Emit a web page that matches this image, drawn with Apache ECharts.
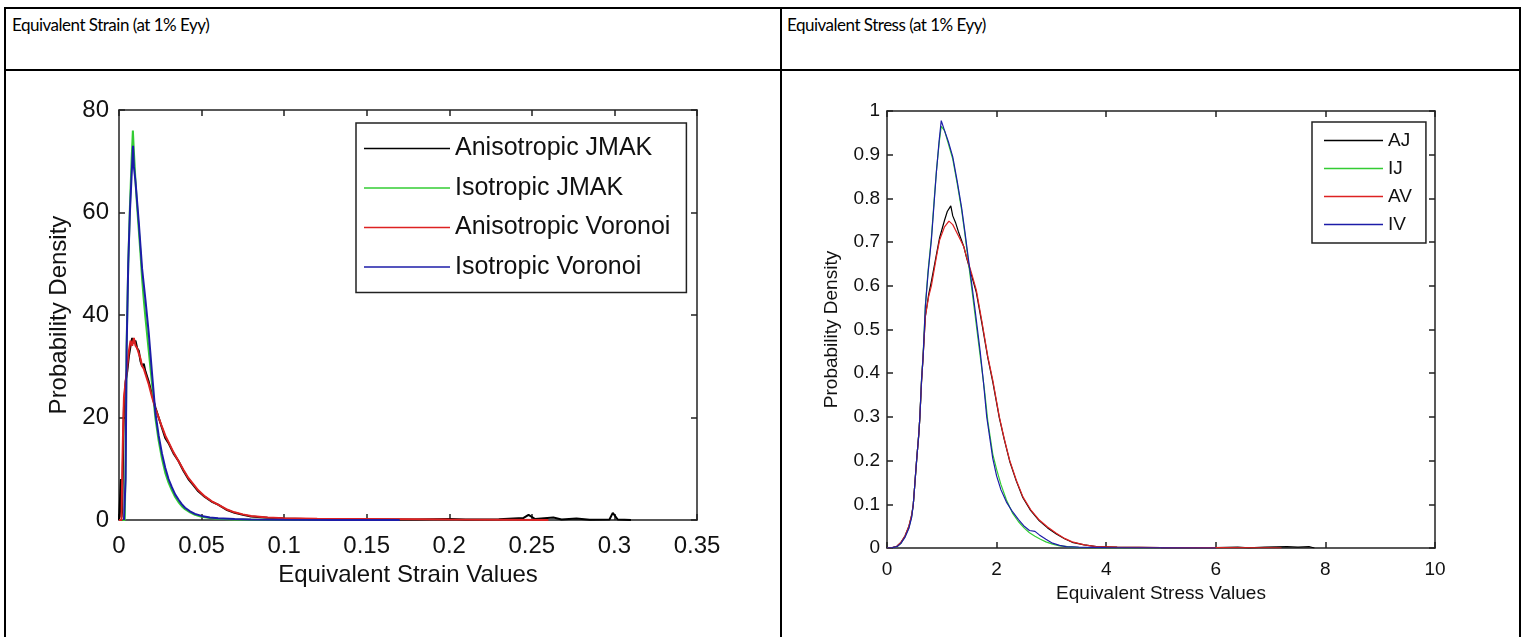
<!DOCTYPE html>
<html>
<head>
<meta charset="utf-8">
<script src="https://cdn.jsdelivr.net/npm/echarts@6/dist/echarts.min.js"></script>
<style>
  html, body { margin: 0; padding: 0; background: #fff; }
  #page { position: relative; width: 1521px; height: 637px; overflow: hidden; }
  .rule { position: absolute; background: #000; }
  .head { position: absolute; font-family: Lato, 'Open Sans', sans-serif; font-size: 17px; letter-spacing: -0.5px; line-height: 20px; color: #000; white-space: nowrap; }
  #main { position: absolute; left: 0; top: 0; width: 1521px; height: 637px; }
</style>
</head>
<body>
<div id="page">
  <div class="rule" style="left:4px; top:7px; width:1517px; height:2px;"></div>
  <div class="rule" style="left:4px; top:69px; width:1517px; height:2px;"></div>
  <div class="rule" style="left:4px; top:7px; width:2px; height:640px;"></div>
  <div class="rule" style="left:780px; top:7px; width:2px; height:640px;"></div>
  <div class="rule" style="left:1519px; top:7px; width:2px; height:640px;"></div>
  <div class="head" style="left:12px; top:15px;">Equivalent Strain (at 1% Eyy)</div>
  <div class="head" style="left:787px; top:15px;">Equivalent Stress (at 1% Eyy)</div>
  <div id="main"></div>
</div>
<script>
// left panel: equivalent strain, [strain, probability density]
const strainNames = ['Anisotropic JMAK', 'Isotropic JMAK', 'Anisotropic Voronoi', 'Isotropic Voronoi'];
const strainTicksX = [0, 0.05, 0.1, 0.15, 0.2, 0.25, 0.3, 0.35];

const strainAJ = [
  [0, 0], [0.001, 0], [0.0012, 8], [0.0015, 0.5], [0.002, 2], [0.0025, 14], [0.003, 22],
  [0.004, 27], [0.005, 29], [0.006, 32], [0.007, 34], [0.008, 35.5], [0.009, 34.5],
  [0.010, 35], [0.011, 33.5], [0.012, 33], [0.013, 31], [0.014, 30], [0.015, 30.5],
  [0.016, 29], [0.018, 27], [0.020, 24.5], [0.022, 22], [0.024, 20], [0.026, 18],
  [0.028, 16], [0.030, 15], [0.033, 13], [0.036, 11.5], [0.039, 9.6], [0.042, 8],
  [0.045, 6.8], [0.048, 5.6], [0.052, 4.5], [0.056, 3.6], [0.060, 3], [0.065, 2],
  [0.070, 1.4], [0.075, 1], [0.080, 0.7], [0.090, 0.45], [0.100, 0.3], [0.120, 0.15],
  [0.150, 0.1], [0.180, 0.08], [0.200, 0.2], [0.210, 0.1], [0.230, 0.15], [0.245, 0.4],
  [0.248, 1], [0.252, 0.2], [0.263, 0.5], [0.268, 0.1], [0.277, 0.3], [0.285, 0.05],
  [0.297, 0.1], [0.299, 1.4], [0.302, 0.1], [0.31, 0]
];
const strainIJ = [
  [0.002, 0], [0.0035, 0], [0.004, 12], [0.0046, 34], [0.0056, 50], [0.0066, 61],
  [0.0076, 70], [0.0084, 76], [0.009, 72], [0.010, 66], [0.011, 61], [0.012, 56.5],
  [0.013, 52], [0.014, 47], [0.015, 43], [0.016, 39.5], [0.018, 33], [0.020, 26.5],
  [0.022, 20], [0.024, 15.5], [0.026, 12], [0.028, 9.2], [0.030, 7.3], [0.032, 5.8],
  [0.034, 4.5], [0.036, 3.5], [0.038, 2.7], [0.040, 2.1], [0.043, 1.5], [0.046, 1.0],
  [0.050, 0.65], [0.055, 0.4], [0.060, 0.25], [0.070, 0.12], [0.080, 0.06],
  [0.100, 0.03], [0.130, 0.01], [0.160, 0]
];
const strainAV = [
  [0, 0], [0.0015, 0], [0.002, 10], [0.0025, 18], [0.003, 24], [0.004, 27], [0.005, 30],
  [0.006, 33], [0.007, 35], [0.008, 34], [0.009, 35.5], [0.010, 34], [0.011, 33.5],
  [0.012, 32.5], [0.013, 31.5], [0.014, 30], [0.015, 29.5], [0.016, 28.5], [0.018, 26.5],
  [0.020, 24], [0.022, 21.8], [0.024, 20], [0.026, 18.2], [0.028, 16.5], [0.030, 15.2],
  [0.033, 13.2], [0.036, 11.5], [0.039, 9.8], [0.042, 8.2], [0.045, 7], [0.048, 5.8],
  [0.052, 4.6], [0.056, 3.7], [0.060, 3], [0.065, 2.1], [0.070, 1.5], [0.075, 1.1],
  [0.080, 0.8], [0.090, 0.5], [0.100, 0.35], [0.120, 0.25], [0.150, 0.2], [0.180, 0.15],
  [0.200, 0.1], [0.230, 0.05], [0.260, 0]
];
const strainIV = [
  [0.003, 0], [0.0035, 0], [0.004, 8], [0.0046, 33], [0.0056, 50], [0.0066, 60],
  [0.0076, 67], [0.0085, 73], [0.009, 69], [0.0095, 67.5], [0.010, 66], [0.011, 62],
  [0.012, 58], [0.013, 53.5], [0.014, 49], [0.015, 46], [0.016, 43], [0.018, 36.5],
  [0.020, 28.6], [0.022, 21], [0.024, 16.5], [0.026, 13], [0.028, 10.2], [0.030, 8],
  [0.032, 6.4], [0.034, 5], [0.036, 4], [0.038, 3.1], [0.040, 2.4], [0.043, 1.7],
  [0.046, 1.2], [0.050, 0.8], [0.055, 0.5], [0.060, 0.35], [0.070, 0.2], [0.080, 0.1],
  [0.100, 0.05], [0.130, 0.02], [0.170, 0]
];

// right panel: equivalent stress, [stress, probability density]
const stressNames = ['AJ', 'IJ', 'AV', 'IV'];

const stressAJ = [
  [0, 0], [0.1, 0.001], [0.18, 0.004], [0.25, 0.012], [0.33, 0.028], [0.4, 0.05],
  [0.45, 0.075], [0.48, 0.1], [0.51, 0.15], [0.54, 0.2], [0.58, 0.26], [0.6, 0.3],
  [0.63, 0.38], [0.66, 0.44], [0.70, 0.53], [0.76, 0.58], [0.81, 0.61], [0.9, 0.67],
  [0.96, 0.71], [1.05, 0.75], [1.1, 0.77], [1.164, 0.783], [1.2, 0.76], [1.25, 0.745],
  [1.3, 0.725], [1.4, 0.69], [1.45, 0.665], [1.54, 0.625], [1.63, 0.585], [1.73, 0.515],
  [1.84, 0.435], [1.93, 0.38], [2.05, 0.298], [2.14, 0.248], [2.24, 0.198], [2.36, 0.153],
  [2.48, 0.115], [2.62, 0.086], [2.78, 0.062], [2.93, 0.046], [3.09, 0.032], [3.24, 0.021],
  [3.38, 0.013], [3.6, 0.007], [3.82, 0.003], [4.2, 0.002], [5, 0.001], [6, 0.0008],
  [6.4, 0.002], [6.6, 0.0005], [6.9, 0.002], [7.3, 0.003], [7.5, 0.002], [7.7, 0.003], [7.8, 0]
];
const stressIJ = [
  [0, 0], [0.1, 0.001], [0.18, 0.003], [0.25, 0.01], [0.33, 0.026], [0.4, 0.047],
  [0.45, 0.072], [0.48, 0.1], [0.51, 0.15], [0.54, 0.2], [0.58, 0.262], [0.6, 0.3],
  [0.63, 0.385], [0.66, 0.445], [0.70, 0.555], [0.75, 0.635], [0.81, 0.71], [0.86, 0.795],
  [0.90, 0.86], [0.95, 0.925], [0.99, 0.965], [1.05, 0.955], [1.12, 0.925], [1.2, 0.89],
  [1.28, 0.835], [1.36, 0.775], [1.42, 0.72], [1.48, 0.66], [1.54, 0.6], [1.6, 0.54],
  [1.66, 0.48], [1.72, 0.42], [1.78, 0.36], [1.84, 0.29], [1.93, 0.215], [2.0, 0.18],
  [2.08, 0.145], [2.18, 0.11], [2.29, 0.08], [2.4, 0.06], [2.51, 0.045], [2.6, 0.035],
  [2.7, 0.027], [2.8, 0.02], [2.9, 0.014], [3.02, 0.009], [3.15, 0.005], [3.3, 0.003],
  [3.5, 0.001], [4, 0.0005], [5, 0]
];
const stressAV = [
  [0, 0], [0.1, 0.001], [0.18, 0.004], [0.25, 0.012], [0.33, 0.028], [0.4, 0.05],
  [0.45, 0.075], [0.48, 0.1], [0.51, 0.15], [0.54, 0.2], [0.58, 0.26], [0.6, 0.3],
  [0.63, 0.38], [0.66, 0.44], [0.70, 0.53], [0.76, 0.575], [0.81, 0.6], [0.9, 0.665],
  [0.96, 0.705], [1.05, 0.735], [1.13, 0.748], [1.2, 0.74], [1.3, 0.715], [1.4, 0.69],
  [1.45, 0.667], [1.54, 0.63], [1.63, 0.59], [1.73, 0.52], [1.84, 0.438], [1.93, 0.384],
  [2.05, 0.30], [2.14, 0.25], [2.24, 0.20], [2.36, 0.155], [2.48, 0.117], [2.62, 0.088],
  [2.78, 0.064], [2.93, 0.048], [3.09, 0.034], [3.24, 0.022], [3.38, 0.014], [3.6, 0.007],
  [3.82, 0.003], [4.2, 0.002], [5, 0.001], [6, 0.0008], [7, 0.0006], [7.2, 0]
];
const stressIV = [
  [0, 0], [0.1, 0.001], [0.18, 0.003], [0.25, 0.01], [0.33, 0.025], [0.4, 0.045],
  [0.45, 0.07], [0.48, 0.1], [0.51, 0.15], [0.54, 0.2], [0.58, 0.26], [0.6, 0.3],
  [0.63, 0.384], [0.66, 0.44], [0.70, 0.552], [0.75, 0.63], [0.81, 0.705], [0.86, 0.79],
  [0.90, 0.858], [0.95, 0.93], [0.99, 0.978], [1.05, 0.955], [1.12, 0.93], [1.2, 0.895],
  [1.28, 0.84], [1.36, 0.78], [1.42, 0.725], [1.48, 0.667], [1.54, 0.61], [1.6, 0.552],
  [1.70, 0.45], [1.76, 0.38], [1.82, 0.30], [1.93, 0.205], [2.0, 0.165], [2.08, 0.133],
  [2.18, 0.105], [2.29, 0.083], [2.4, 0.065], [2.51, 0.049], [2.6, 0.04], [2.7, 0.038],
  [2.78, 0.03], [2.9, 0.02], [3.02, 0.011], [3.15, 0.006], [3.27, 0.003], [3.5, 0.002],
  [4, 0.001], [5, 0.0005], [6, 0]
];

const colors = ['#000000', '#33cc33', '#dd2222', '#1c1ca8'];
const font = "'Liberation Sans', Arial, sans-serif";
const axisColor = '#222';

function xAxisPair(grid, min, max, step, size, margin, name, gap) {
  const common = {
    gridIndex: grid, type: 'value', min: min, max: max, interval: step,
    axisLine: { show: true, onZero: false, lineStyle: { color: axisColor, width: 1.5 } },
    axisTick: { show: true, inside: true, length: 6, lineStyle: { color: axisColor, width: 1.5 } },
    splitLine: { show: false }
  };
  return [
    Object.assign({}, common, {
      position: 'bottom',
      axisLabel: { fontSize: size, fontFamily: font, color: '#111', margin: margin,
        formatter: v => String(+v.toFixed(2)) },
      name: name, nameLocation: 'middle', nameGap: gap,
      nameTextStyle: { fontSize: size, fontFamily: font, color: '#111' }
    }),
    Object.assign({}, common, { position: 'top', axisLabel: { show: false } })
  ];
}

function yAxisPair(grid, min, max, step, size, margin, name, gap) {
  const common = {
    gridIndex: grid, type: 'value', min: min, max: max, interval: step,
    axisLine: { show: true, onZero: false, lineStyle: { color: axisColor, width: 1.5 } },
    axisTick: { show: true, inside: true, length: 6, lineStyle: { color: axisColor, width: 1.5 } },
    splitLine: { show: false }
  };
  return [
    Object.assign({}, common, {
      position: 'left',
      axisLabel: { fontSize: size, fontFamily: font, color: '#111', margin: margin,
        formatter: v => String(+v.toFixed(2)) },
      name: name, nameLocation: 'middle', nameGap: gap,
      nameTextStyle: { fontSize: size, fontFamily: font, color: '#111' }
    }),
    Object.assign({}, common, { position: 'right', axisLabel: { show: false } })
  ];
}

function lineSeries(name, data, color, xi, yi, width) {
  return {
    name: name, type: 'line', data: data, xAxisIndex: xi, yAxisIndex: yi,
    symbol: 'none', showSymbol: false, silent: true, animation: false,
    color: color, lineStyle: { color: color, width: width }
  };
}

const chart = echarts.init(document.getElementById('main'));
chart.setOption({
  animation: false,
  grid: [
    { left: 119, top: 110, width: 578, height: 410 },
    { left: 887, top: 111, width: 548, height: 437 }
  ],
  xAxis: [].concat(
    xAxisPair(0, strainTicksX[0], strainTicksX[strainTicksX.length - 1], 0.05, 24, 14, 'Equivalent Strain Values', 43),
    xAxisPair(1, 0, 10, 2, 19, 12, 'Equivalent Stress Values', 34)
  ),
  yAxis: [].concat(
    yAxisPair(0, 0, 80, 20, 24, 10, 'Probability Density', 48),
    yAxisPair(1, 0, 1, 0.1, 19, 7, 'Probability Density', 46)
  ),
  legend: [
    {
      data: strainNames, orient: 'vertical', left: 356, top: 123,
      icon: 'rect', itemWidth: 86, itemHeight: 1.3, itemGap: 14.5, padding: [13, 16, 13, 8],
      borderColor: '#222', borderWidth: 1.5, backgroundColor: '#fff',
      textStyle: { fontSize: 25, lineHeight: 25, fontFamily: font, color: '#111' }, selectedMode: false
    },
    {
      data: stressNames, orient: 'vertical', left: 1312, top: 122,
      icon: 'rect', itemWidth: 59, itemHeight: 1.3, itemGap: 9, padding: [9, 14, 9, 12],
      borderColor: '#222', borderWidth: 1.5, backgroundColor: '#fff',
      textStyle: { fontSize: 19, lineHeight: 19, fontFamily: font, color: '#111' }, selectedMode: false
    }
  ],
  series: [
    lineSeries(strainNames[0], strainAJ, colors[0], 0, 0, 2),
    lineSeries(strainNames[1], strainIJ, colors[1], 0, 0, 2),
    lineSeries(strainNames[2], strainAV, colors[2], 0, 0, 2),
    lineSeries(strainNames[3], strainIV, colors[3], 0, 0, 2),
    lineSeries(stressNames[0], stressAJ, colors[0], 2, 2, 1.2),
    lineSeries(stressNames[1], stressIJ, colors[1], 2, 2, 1.2),
    lineSeries(stressNames[2], stressAV, colors[2], 2, 2, 1.2),
    lineSeries(stressNames[3], stressIV, colors[3], 2, 2, 1.2)
  ]
});
</script>
</body>
</html>
